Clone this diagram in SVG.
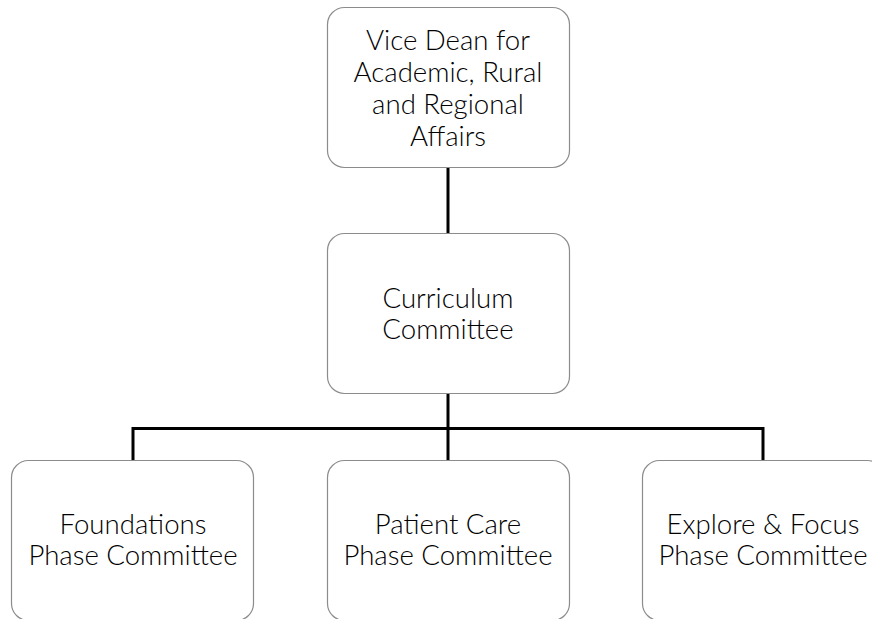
<svg xmlns="http://www.w3.org/2000/svg" width="872" height="619" viewBox="0 0 872 619">
<style>
.box{fill:#fff;stroke:#8c8c8c;stroke-width:1.2}
.lbl{font-family:Lato,"Open Sans","Liberation Sans",sans-serif;font-weight:300;font-size:27.6px;fill:#000;text-anchor:middle}
.conn{stroke:#000;stroke-width:3;fill:none}
</style>
<rect width="872" height="619" fill="#fff"/>
<g id="connectors">
<line class="conn" x1="448" y1="168" x2="448" y2="233"/>
<line class="conn" x1="448" y1="393" x2="448" y2="460"/>
<polyline class="conn" points="133,460 133,428.5 763,428.5 763,460"/>
</g>
<g id="vice-dean">
<rect class="box" x="327.5" y="7.5" width="242" height="160" rx="17"/>
<text class="lbl"><tspan x="448" y="50">Vice Dean for</tspan><tspan x="448" y="82">Academic, Rural</tspan><tspan x="448" y="114">and Regional</tspan><tspan x="448" y="146">Affairs</tspan></text>
</g>
<g id="curriculum">
<rect class="box" x="327.5" y="233.5" width="242" height="160" rx="17"/>
<text class="lbl"><tspan x="448" y="308">Curriculum</tspan><tspan x="448" y="339">Committee</tspan></text>
</g>
<g id="foundations">
<rect class="box" x="11.5" y="460.5" width="242" height="160" rx="17"/>
<text class="lbl"><tspan x="133" y="534">Foundations</tspan><tspan x="133" y="565">Phase Committee</tspan></text>
</g>
<g id="patient-care">
<rect class="box" x="327.5" y="460.5" width="242" height="160" rx="17"/>
<text class="lbl"><tspan x="448" y="534">Patient Care</tspan><tspan x="448" y="565">Phase Committee</tspan></text>
</g>
<g id="explore-focus">
<rect class="box" x="642.5" y="460.5" width="242" height="160" rx="17"/>
<text class="lbl"><tspan x="763" y="534">Explore &amp; Focus</tspan><tspan x="763" y="565">Phase Committee</tspan></text>
</g>
</svg>
